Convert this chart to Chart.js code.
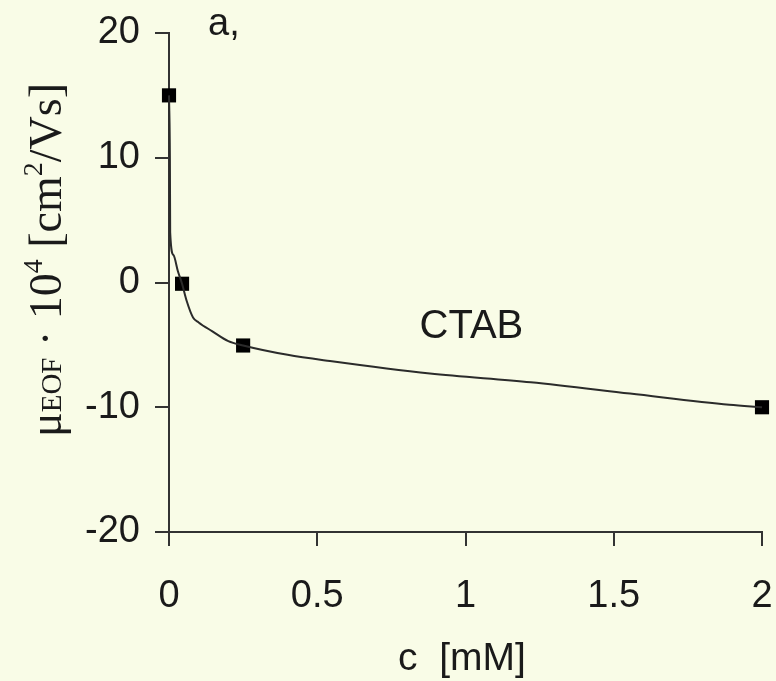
<!DOCTYPE html>
<html>
<head>
<meta charset="utf-8">
<script src="https://cdn.jsdelivr.net/npm/chart.js@4.4.0/dist/chart.umd.min.js"></script>
<style>
  html, body { margin: 0; padding: 0; background: #f9fce7; }
  #wrap { width: 776px; height: 681px; }
</style>
</head>
<body>
<div id="wrap"><canvas id="myChart" width="776" height="681"></canvas></div>
<script>
// measured points (c in mM, mobility * 10^4)
const concentrations = [0, 0.044, 0.25, 2];
const mobility = [15, -0.1, -5.05, -10];

// fitted curve
const fitX = [0, 0.003, 0.004, 0.015, 0.03, 0.044, 0.06, 0.081, 0.1, 0.145, 0.2, 0.25, 0.4, 0.543, 0.88, 1.22, 1.555, 1.89, 2];
const fitY = [15, 10, 4, 2.2, 0.9, -0.1, -1.5, -2.8, -3.2, -3.9, -4.7, -5.05, -5.8, -6.3, -7.3, -8.0, -8.9, -9.8, -10];

const xTicks = [0, 0.5, 1, 1.5, 2];
const yTicks = [-20, -10, 0, 10, 20];

const ink = '#1a1a1a';
const sans = "'Liberation Sans', Arial, sans-serif";
const serif = "'Liberation Serif', 'Times New Roman', serif";

const textPlugin = {
  id: 'textPlugin',
  afterDraw(chart) {
    const ctx = chart.ctx;
    const xs = chart.scales.x;
    ctx.save();
    ctx.fillStyle = ink;
    ctx.textBaseline = 'alphabetic';

    // panel letter
    ctx.font = '38px ' + sans;
    ctx.textAlign = 'left';
    ctx.fillText('a,', 208, 35);

    // series label
    ctx.font = '40px ' + sans;
    ctx.textAlign = 'center';
    ctx.fillText('CTAB', xs.getPixelForValue(1.02), 338);

    // x title
    ctx.font = '39px ' + sans;
    ctx.fillText('c  [mM]', 462, 670);

    // y title, rotated, with sub/superscripts
    const parts = [
      { t: '\u03bc', f: '46px ' + serif, dy: 0 },
      { t: 'EOF', f: '29px ' + serif, dy: 0 },
      { t: ' \u00b7 10', f: '46px ' + serif, dy: 0 },
      { t: '4', f: '28px ' + serif, dy: -19 },
      { t: ' [cm', f: '46px ' + serif, dy: 0 },
      { t: '2', f: '28px ' + serif, dy: -19 },
      { t: '/Vs]', f: '46px ' + serif, dy: 0 }
    ];
    ctx.translate(61, 437);
    ctx.rotate(-Math.PI / 2);
    ctx.textAlign = 'left';
    let x = 0;
    parts.forEach(p => {
      ctx.font = p.f;
      ctx.fillText(p.t, x, p.dy);
      x += ctx.measureText(p.t).width;
    });
    ctx.restore();
  }
};

const ctx = document.getElementById('myChart');
new Chart(ctx, {
  type: 'scatter',
  data: {
    datasets: [
      {
        label: 'fit',
        data: fitX.map((v, i) => ({ x: v, y: fitY[i] })),
        showLine: true,
        borderColor: '#2b2b2b',
        borderWidth: 2,
        pointRadius: 0,
        cubicInterpolationMode: 'monotone',
        clip: false
      },
      {
        label: 'CTAB',
        data: concentrations.map((v, i) => ({ x: v, y: mobility[i] })),
        showLine: false,
        pointStyle: 'rect',
        pointRadius: 10,
        backgroundColor: '#000',
        borderColor: '#000',
        borderWidth: 0,
        clip: false
      }
    ]
  },
  options: {
    responsive: false,
    animation: false,
    layout: { padding: { left: 0, top: 33, right: 14, bottom: 0 } },
    plugins: {
      legend: { display: false },
      tooltip: { enabled: false }
    },
    scales: {
      x: {
        type: 'linear',
        min: 0,
        max: 2,
        afterBuildTicks: s => { s.ticks = xTicks.map(v => ({ value: v })); },
        afterFit: s => { s.height = 149; s.paddingLeft = 0; s.paddingRight = 0; },
        ticks: {
          callback: v => String(v),
          color: ink,
          font: { family: sans, size: 38 },
          padding: 28,
          maxRotation: 0
        },
        grid: { drawOnChartArea: false, drawTicks: true, tickLength: 14, color: '#333', lineWidth: 2 },
        border: { display: true, color: '#333', width: 2 }
      },
      y: {
        type: 'linear',
        min: -20,
        max: 20,
        afterBuildTicks: s => { s.ticks = yTicks.map(v => ({ value: v })); },
        afterFit: s => { s.width = 169; s.paddingTop = 0; s.paddingBottom = 0; },
        ticks: {
          callback: v => String(v),
          color: ink,
          font: { family: sans, size: 38 },
          padding: 15
        },
        grid: { drawOnChartArea: false, drawTicks: true, tickLength: 14, color: '#333', lineWidth: 2 },
        border: { display: true, color: '#333', width: 2 }
      }
    }
  },
  plugins: [textPlugin]
});
</script>
</body>
</html>
